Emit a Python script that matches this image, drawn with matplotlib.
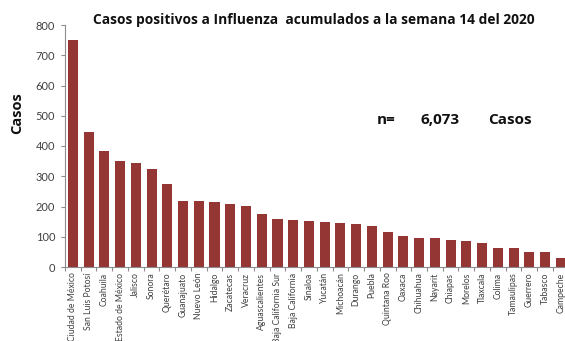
import matplotlib
matplotlib.use("Agg")
import matplotlib.pyplot as plt
from matplotlib.ticker import FixedLocator

estados = [
    "Ciudad de México", "San Luis Potosí", "Coahuila", "Estado de México",
    "Jalisco", "Sonora", "Querétaro", "Guanajuato", "Nuevo León", "Hidalgo",
    "Zacatecas", "Veracruz", "Aguascalientes", "Baja California Sur",
    "Baja California", "Sinaloa", "Yucatán", "Michoacán", "Durango", "Puebla",
    "Quintana Roo", "Oaxaca", "Chihuahua", "Nayarit", "Chiapas", "Morelos",
    "Tlaxcala", "Colima", "Tamaulipas", "Guerrero", "Tabasco", "Campeche",
]
casos = [
    750, 445, 382, 352, 344, 325, 273, 219, 219, 215,
    207, 203, 176, 160, 157, 152, 149, 144, 141, 137,
    117, 101, 97, 97, 89, 85, 78, 63, 63, 51,
    51, 29,
]
yticks = [0, 100, 200, 300, 400, 500, 600, 700, 800]
total = "6,073"

bar_color = "#943634"
axis_gray = "#8c8c8c"
text_dark = "#404040"

W, H = 565, 341
fig = plt.figure(figsize=(W / 100, H / 100), dpi=100)
ax = fig.add_axes([65 / W, 1 - 267 / H, 500 / W, (267 - 25) / H])

x = list(range(len(estados)))
ax.bar(x, casos, width=0.64, color=bar_color, zorder=2)

ax.set_xlim(-0.5, 31.27)
ax.set_ylim(0, 800)
ax.set_yticks(yticks)
ax.set_yticklabels([str(v) for v in yticks], fontsize=8, color=text_dark,
                   family="Lato")

ax.set_xticks(x)
ax.set_xticklabels(estados, rotation=90, fontsize=6.2, color=text_dark,
                   family="Lato", va="top", ha="center")
ax.xaxis.set_minor_locator(FixedLocator([i - 0.5 for i in range(len(estados) + 1)]))
ax.tick_params(axis="x", which="major", length=0, pad=4)
ax.tick_params(axis="x", which="minor", length=3, color=axis_gray, width=0.8)
ax.tick_params(axis="y", length=3, color=axis_gray, width=0.8, pad=4)

for side in ("top", "right"):
    ax.spines[side].set_visible(False)
for side in ("left", "bottom"):
    ax.spines[side].set_color(axis_gray)
    ax.spines[side].set_linewidth(0.8)

fig.text(314 / W, 1 - 20 / H,
         "Casos positivos a Influenza  acumulados a la semana 14 del 2020",
         ha="center", va="center", fontsize=9.9, fontweight="bold",
         family="Open Sans", color="#111111")
fig.text(17 / W, 1 - 113 / H, "Casos", rotation=90, ha="center", va="center",
         fontsize=10.5, fontweight="bold", family="Open Sans", color="#111111")

ty = 1 - 120 / H
fig.text(386 / W, ty, "n=", ha="center", va="center", fontsize=11,
         fontweight="bold", family="Open Sans", color="#111111")
fig.text(440 / W, ty, total, ha="center", va="center", fontsize=11,
         fontweight="bold", family="Open Sans", color="#111111")
fig.text(510 / W, ty, "Casos", ha="center", va="center", fontsize=11,
         fontweight="bold", family="Open Sans", color="#111111")

fig.savefig("out.png", dpi=100, facecolor="white")
